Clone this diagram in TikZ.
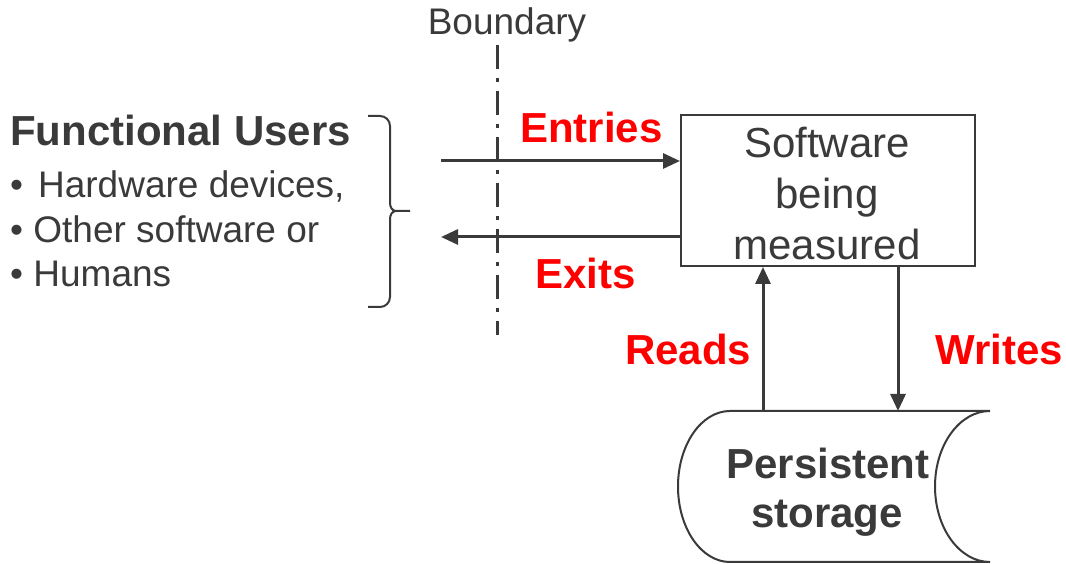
\documentclass[tikz,border=0pt]{standalone}
\usepackage{fontspec}
\setmainfont{Liberation Sans}
\usetikzlibrary{arrows.meta}
\definecolor{ink}{RGB}{58,58,58}
\definecolor{flow}{RGB}{255,0,0}
\tikzset{
  big/.style={font=\fontsize{42}{51}\selectfont},
  bigbold/.style={font=\fontsize{42}{51}\selectfont\bfseries},
  mid/.style={font=\fontsize{37}{45}\selectfont},
  txt/.style={text=ink, inner sep=0pt},
  flowlabel/.style={bigbold, text=flow, inner sep=0pt, anchor=base west},
  pipe/.style={draw=ink, line width=3pt, -{Triangle[length=17pt,width=15pt]}},
  outline/.style={draw=ink, line width=2pt},
}
\begin{document}
\begin{tikzpicture}[x=1pt,y=1pt]
\useasboundingbox (0,0) rectangle (1066,564);

% system boundary
\node[txt, mid, anchor=base] (blabel) at (507,529) {Boundary};
\coordinate (btop) at (497,519);
\coordinate (bbot) at (497,229);
\draw[ink, line width=3pt, dash pattern=on 24pt off 9pt on 4pt off 9pt] (btop) -- (bbot);

% functional users
\node[txt, bigbold, anchor=base west] (fu) at (10,418) {Functional Users};
\node[txt, mid, anchor=base west] (u1) at (10,366) {•\hspace{15pt}Hardware devices,};
\node[txt, mid, anchor=base west] (u2) at (10,321) {• Other software or};
\node[txt, mid, anchor=base west] (u3) at (10,277) {• Humans};

% closing brace
\draw[ink, line width=2pt]
  (368,448) -- (380,448) to[out=0,in=90] (390,438) -- (390,361)
  to[out=-90,in=180] (396,353) -- (410,353)
  (396,353) to[out=180,in=90] (390,345) -- (390,267)
  to[out=-90,in=0] (380,257) -- (368,257);

% software box
\node[outline, minimum width=294pt, minimum height=151pt,
      anchor=south west] (sw) at (680,297) {};
\node[txt, big, anchor=base] (sw1) at (827,406) {Software};
\node[txt, big, anchor=base] (sw2) at (827,355) {being};
\node[txt, big, anchor=base] (sw3) at (827,304) {measured};

% persistent storage
\coordinate (stl) at (730,153);
\coordinate (str) at (990,153);
\draw[outline] (stl) -- (str)
  arc[start angle=90, end angle=270, x radius=55, y radius=75.5]
  -- (730,2)
  arc[start angle=270, end angle=90, x radius=52, y radius=75.5] -- cycle;
\node[txt, bigbold, anchor=base] (ps1) at (828,85) {Persistent};
\node[txt, bigbold, anchor=base] (ps2) at (827,36) {storage};

% data movements
\coordinate (ein) at (441,403);
\coordinate (xout) at (441,327);
\coordinate (rd) at (763,153);
\coordinate (wr) at (898,153);
\draw[pipe] (ein) -- (ein -| sw.west);
\draw[pipe] (xout -| sw.west) -- (xout);
\draw[pipe] (rd) -- (rd |- sw.south);
\draw[pipe] (wr |- sw.south) -- (wr);

\node[flowlabel] (le) at (520,421) {Entries};
\node[flowlabel] (lx) at (535,275) {Exits};
\node[flowlabel] (lr) at (625,199) {Reads};
\node[flowlabel] (lw) at (935,199) {Writes};
\end{tikzpicture}
\end{document}
